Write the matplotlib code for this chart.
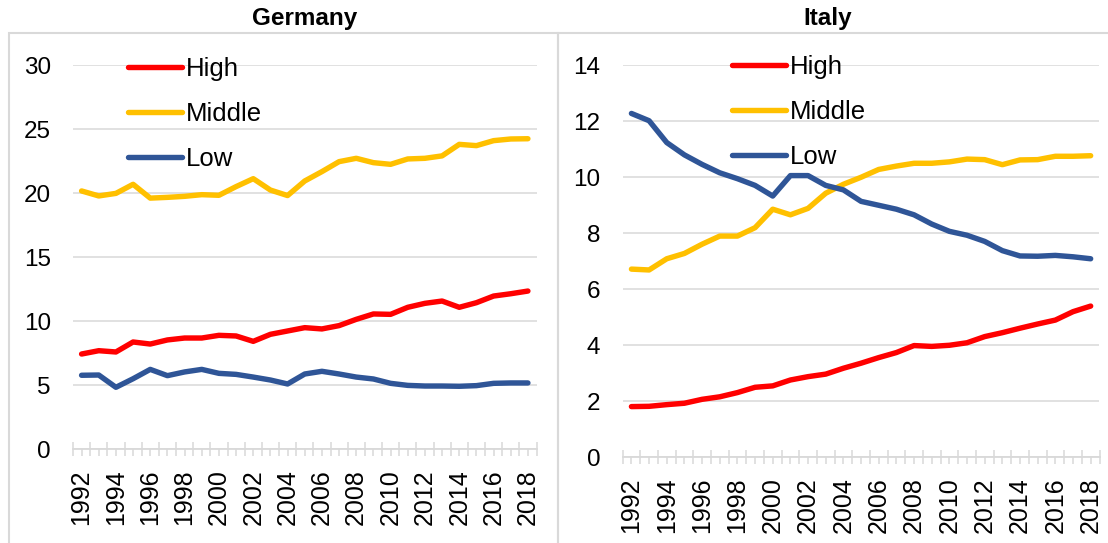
"""
Employment by skill level, Germany vs Italy, 1992-2018 (millions).
Two Excel-style line panels side by side, saved to out.png.
"""

import matplotlib
matplotlib.use("Agg")
import matplotlib.pyplot as plt
from matplotlib.patches import Rectangle
from matplotlib.ticker import MultipleLocator

plt.rcParams["font.family"] = ["Liberation Sans", "DejaVu Sans"]

years = list(range(1992, 2019))

de_high = [7.42, 7.68, 7.58, 8.36, 8.20, 8.52, 8.67, 8.67, 8.88, 8.83,
           8.41, 8.96, 9.22, 9.48, 9.38, 9.64, 10.13, 10.55, 10.52, 11.07,
           11.38, 11.56, 11.07, 11.43, 11.95, 12.13, 12.34]
de_middle = [20.16, 19.77, 19.97, 20.68, 19.60, 19.66, 19.74, 19.87, 19.82, 20.50,
             21.12, 20.23, 19.80, 20.94, 21.67, 22.45, 22.71, 22.37, 22.24, 22.66,
             22.71, 22.90, 23.80, 23.70, 24.09, 24.22, 24.24]
de_low = [5.76, 5.78, 4.82, 5.49, 6.22, 5.73, 6.02, 6.22, 5.91, 5.83,
          5.62, 5.39, 5.08, 5.86, 6.07, 5.86, 5.62, 5.47, 5.13, 4.97,
          4.92, 4.92, 4.90, 4.95, 5.13, 5.16, 5.16]

it_high = [1.80, 1.81, 1.87, 1.92, 2.06, 2.15, 2.30, 2.49, 2.54, 2.75,
           2.87, 2.96, 3.17, 3.35, 3.55, 3.73, 3.98, 3.95, 3.99, 4.08,
           4.30, 4.44, 4.60, 4.75, 4.89, 5.19, 5.39]
it_middle = [6.71, 6.68, 7.08, 7.27, 7.60, 7.89, 7.89, 8.19, 8.85, 8.65,
             8.88, 9.42, 9.74, 9.99, 10.27, 10.39, 10.49, 10.49, 10.54, 10.64,
             10.62, 10.44, 10.61, 10.62, 10.74, 10.74, 10.76]
it_low = [12.27, 12.01, 11.23, 10.79, 10.45, 10.15, 9.94, 9.70, 9.32, 10.05,
          10.05, 9.70, 9.54, 9.13, 8.99, 8.85, 8.65, 8.32, 8.06, 7.92,
          7.70, 7.37, 7.18, 7.17, 7.20, 7.15, 7.08]

series_labels = ["High", "Middle", "Low"]
series_colors = ["#FF0000", "#FFC000", "#2F5597"]

GRID = "#D9D9D9"
W, H = 1108, 543


def fx(px):
    return px / W


def fy(py):
    return 1 - py / H


def draw_panel(ax, data, ymax, ystep, legend_xy):
    for vals, label, c in zip(data, series_labels, series_colors):
        ax.plot(years, vals, color=c, lw=3.9, label=label,
                solid_capstyle="round", solid_joinstyle="round")

    ax.set_xlim(years[0] - 0.5, years[-1] + 0.5)
    ax.set_ylim(0, ymax)
    ax.yaxis.set_major_locator(MultipleLocator(ystep))
    ax.grid(axis="y", color=GRID, lw=1.1)
    ax.set_axisbelow(True)

    for side in ("left", "right", "top"):
        ax.spines[side].set_visible(False)
    ax.spines["bottom"].set_color(GRID)
    ax.spines["bottom"].set_linewidth(1.3)

    # labels every 2 years at category centres, cross ticks at boundaries
    ax.set_xticks(years)
    ax.set_xticklabels([str(y) if (y - years[0]) % 2 == 0 else "" for y in years],
                       rotation=90)
    ax.set_xticks([y - 0.5 for y in years] + [years[-1] + 0.5], minor=True)
    ax.tick_params(axis="x", which="major", direction="out", length=5,
                   width=1.1, color=GRID, labelsize=18, pad=9.5)
    ax.tick_params(axis="x", which="minor", direction="inout", length=9.5,
                   width=1.1, color=GRID)
    ax.tick_params(axis="y", length=0, labelsize=17.5, pad=16)

    ax.legend(loc="upper left", bbox_to_anchor=legend_xy,
              bbox_transform=ax.figure.transFigure, frameon=False,
              fontsize=18.5, handlelength=2.1, handletextpad=0.15,
              labelspacing=0.82, borderpad=0, borderaxespad=0)


fig = plt.figure(figsize=(W / 100, H / 100), dpi=100)

# panel frames
fig.add_artist(Rectangle((fx(9), -0.02), fx(558 - 9), fy(33) + 0.02,
                         transform=fig.transFigure, fill=False,
                         edgecolor=GRID, lw=1.5))
fig.add_artist(Rectangle((fx(558), -0.02), fx(1120 - 558), fy(33) + 0.02,
                         transform=fig.transFigure, fill=False,
                         edgecolor=GRID, lw=1.5))

ax_de = fig.add_axes([fx(73), fy(449), fx(536.5 - 73), fy(65) - fy(449)])
ax_it = fig.add_axes([fx(622.6), fy(457), fx(1099.5 - 622.6), fy(65) - fy(457)])

draw_panel(ax_de, [de_high, de_middle, de_low], 30, 5, (fx(128), fy(57)))
draw_panel(ax_it, [it_high, it_middle, it_low], 14, 2, (fx(732), fy(55)))

fig.text(fx(305), fy(18), "Germany", ha="center", va="center",
         fontsize=17.5, fontweight="bold")
fig.text(fx(828), fy(18), "Italy", ha="center", va="center",
         fontsize=17.5, fontweight="bold")

fig.savefig("out.png", dpi=100)
plt.close(fig)
